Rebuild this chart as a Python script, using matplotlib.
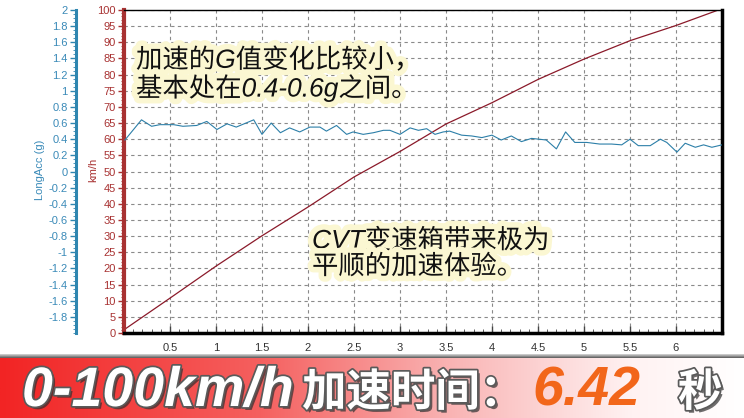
import numpy as np
import matplotlib
matplotlib.use("Agg")
import matplotlib.pyplot as plt
import matplotlib.patheffects as pe
from matplotlib.colors import LinearSegmentedColormap
from matplotlib.ticker import MultipleLocator, FixedLocator

# speed trace (km/h) vs time (s)
speed_t = [0, 0.5, 1.0, 1.5, 2.0, 2.5, 3.0, 3.5, 4.0, 4.5, 5.0, 5.5, 6.0, 6.48]
speed_v = [1, 10.8, 20.7, 30.1, 39.0, 48.3, 56.2, 64.7, 71.3, 78.5, 84.8, 90.5, 95.2, 100.2]

# longitudinal acceleration (g) vs time (s)
acc_t = [0.01, 0.19, 0.30, 0.39, 0.54, 0.64, 0.79, 0.90, 1.01, 1.12, 1.22, 1.41, 1.50,
         1.60, 1.70, 1.80, 1.91, 2.02, 2.13, 2.20, 2.31, 2.42, 2.49, 2.60, 2.71, 2.82,
         2.89, 3.00, 3.11, 3.20, 3.29, 3.38, 3.47, 3.54, 3.67, 3.78, 3.89, 4.00, 4.10,
         4.21, 4.32, 4.43, 4.59, 4.70, 4.80, 4.90, 5.03, 5.17, 5.30, 5.41, 5.50, 5.59,
         5.72, 5.83, 5.90, 6.01, 6.10, 6.21, 6.30, 6.39, 6.50]
acc_g = [0.39, 0.64, 0.56, 0.58, 0.58, 0.56, 0.57, 0.62, 0.52, 0.59, 0.55, 0.64, 0.46,
         0.60, 0.48, 0.54, 0.49, 0.55, 0.55, 0.50, 0.57, 0.46, 0.49, 0.46, 0.48, 0.51,
         0.51, 0.46, 0.54, 0.51, 0.53, 0.46, 0.49, 0.50, 0.45, 0.44, 0.42, 0.45, 0.39,
         0.44, 0.37, 0.41, 0.39, 0.28, 0.49, 0.36, 0.36, 0.34, 0.34, 0.33, 0.40, 0.32,
         0.32, 0.40, 0.36, 0.24, 0.35, 0.30, 0.33, 0.30, 0.33]

x_ticks = [0.5, 1, 1.5, 2, 2.5, 3, 3.5, 4, 4.5, 5, 5.5, 6]
kmh_ticks = list(range(0, 101, 5))
g_ticks = [round(v, 1) + 0.0 for v in np.arange(-1.8, 2.01, 0.2)]

note1 = "加速的G值变化比较小，\n基本处在0.4-0.6g之间。"
note2 = "CVT变速箱带来极为\n平顺的加速体验。"
banner_a = "0-100km/h"
banner_b = "加速时间："
banner_num = "6.42"
banner_unit = "秒"

W, H = 744, 418
fig = plt.figure(figsize=(W / 100, H / 100), dpi=100)
fig.patch.set_facecolor("white")

def fx(px):
    return px / W

def fy(py):
    return 1 - py / H

red = "#a83232"
blue = "#2f86b0"
tick_font = ["Liberation Sans", "DejaVu Sans"]

ax = fig.add_axes([fx(124), fy(333), fx(722 - 124), (333 - 10) / H])
ax.plot(speed_t, speed_v, color="#8b1a2a", lw=0.9)
ax.set_xlim(0, 6.5)
ax.set_ylim(0, 100)
ax.xaxis.set_major_locator(FixedLocator(x_ticks))
ax.xaxis.set_minor_locator(MultipleLocator(0.1))
ax.yaxis.set_major_locator(FixedLocator(kmh_ticks))
ax.yaxis.set_minor_locator(MultipleLocator(1))
ax.set_xticklabels([f"{v:g}" for v in x_ticks], fontsize=8, family=tick_font, color="#333333")
ax.set_yticklabels([str(v) for v in kmh_ticks], fontsize=8, family=tick_font, color=red)
ax.tick_params(axis="x", direction="in", length=5, width=1, pad=7, color="#444444")
ax.tick_params(axis="x", which="minor", direction="in", length=3, color="#444444")
ax.tick_params(axis="y", direction="out", length=4, width=1, pad=2, color=red)
ax.tick_params(axis="y", which="minor", direction="out", length=2, color=red)
ax.grid(True, color="#8a8a8a", linestyle=(0, (3, 3)), linewidth=0.8)
ax.spines["left"].set_color(red)
ax.spines["left"].set_linewidth(3)
ax.spines["bottom"].set_linewidth(2.5)
ax.spines["right"].set_linewidth(2.5)
ax.spines["top"].set_linewidth(1)

ax2 = ax.twinx()
ax2.plot(acc_t, acc_g, color="#2c7fa8", lw=0.8)
ax2.set_ylim(-2, 2)
ax2.yaxis.tick_left()
ax2.spines["left"].set_visible(True)
ax2.spines["left"].set_position(("outward", 34.5))
ax2.spines["left"].set_color(blue)
ax2.spines["left"].set_linewidth(2.2)
ax2.spines["right"].set_visible(False)
ax2.spines["top"].set_visible(False)
ax2.spines["bottom"].set_visible(False)
ax2.yaxis.set_major_locator(FixedLocator(g_ticks))
ax2.yaxis.set_minor_locator(MultipleLocator(0.05))
ax2.set_yticklabels([f"{v:g}" for v in g_ticks], fontsize=8, family=tick_font, color="#3a8ab8")
ax2.tick_params(axis="y", direction="out", length=4, width=1, pad=2, color=blue)
ax2.tick_params(axis="y", which="minor", direction="out", length=2, color=blue)

fig.text(fx(40), fy(170), "LongAcc (g)", rotation=90, ha="center", va="center",
         fontsize=8, family=tick_font, color="#3a8ab8")
fig.text(fx(93), fy(170), "km/h", rotation=90, ha="center", va="center",
         fontsize=8, family=tick_font, color=red)

glow = [pe.withStroke(linewidth=8, foreground="#fbf7d2")]
note_font = ["Liberation Sans", "Noto Sans CJK SC"]
fig.text(fx(136), fy(47), note1, ha="left", va="top", fontsize=19, style="italic",
         family=note_font, color="#111111", linespacing=1.05, path_effects=glow)
fig.text(fx(312), fy(228), note2, ha="left", va="top", fontsize=19, style="italic",
         family=note_font, color="#111111", linespacing=1.05, path_effects=glow)

# banner at the bottom
shadow = fig.add_axes([0, fy(358), 1, 4 / H])
shadow.imshow(np.linspace(0, 1, 20).reshape(-1, 1), aspect="auto",
              cmap=LinearSegmentedColormap.from_list("sh", ["#d8d8d8", "#5a5a5a"]))
shadow.axis("off")
band = fig.add_axes([0, 0, 1, fy(358)])
cmap = LinearSegmentedColormap.from_list(
    "band", [(0, "#f22424"), (0.35, "#f5605f"), (0.6, "#f9b2b2"), (0.85, "#fff2f2"), (1, "#ffffff")])
band.imshow(np.linspace(0, 1, 256).reshape(1, -1), aspect="auto", cmap=cmap)
band.axis("off")

outline = [pe.withSimplePatchShadow(offset=(2, -2), shadow_rgbFace="#303030", alpha=0.7),
           pe.withStroke(linewidth=2.5, foreground="#5a5a5a")]
fig.text(fx(22), fy(406), banner_a, ha="left", va="baseline", fontsize=40, weight="bold",
         style="italic", family=note_font, color="white", path_effects=outline)
fig.text(fx(302), fy(406), banner_b, ha="left", va="baseline", fontsize=32, weight="black",
         family=["Noto Sans CJK SC"], color="white", path_effects=outline)
fig.text(fx(532), fy(406), banner_num, ha="left", va="baseline", fontsize=40, weight="bold",
         style="italic", family=note_font, color="#f2661a")
fig.text(fx(678), fy(406), banner_unit, ha="left", va="baseline", fontsize=32, weight="black",
         family=["Noto Sans CJK SC"], color="white", path_effects=outline)

fig.savefig("out.png", dpi=100)
